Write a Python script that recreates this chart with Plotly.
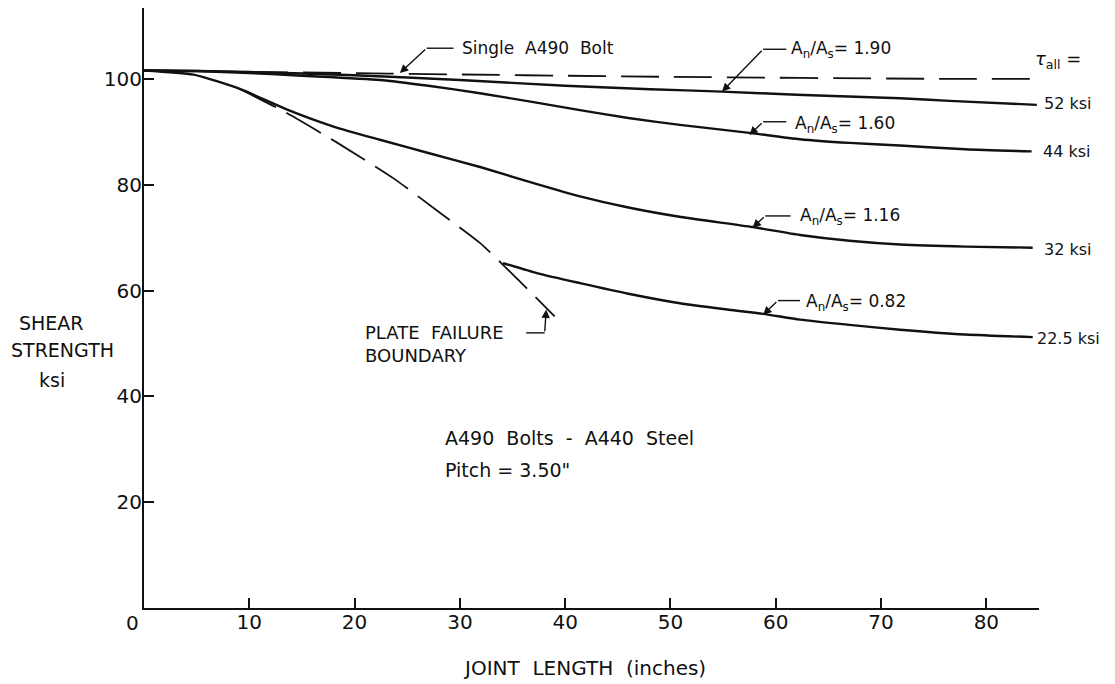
import plotly.graph_objects as go

# ---- data ----
single_x = [0, 23.2, 49.0, 76.5, 85.0]
single_y = [101.6, 101.0, 100.4, 100.0, 100.0]

r190_x = [0, 5, 10, 20, 30, 40, 48.1, 54.9, 62, 71.8, 76.5, 84.8]
r190_y = [101.6, 101.5, 101.3, 100.7, 99.8, 98.7, 98.05, 97.6, 97.0, 96.35, 95.85, 95.1]

r160_x = [0, 5, 10, 15, 22.4, 27, 31.9, 37, 41.4, 46, 50.9, 57.5, 62.3, 67, 71.8, 78, 84.3]
r160_y = [101.6, 101.5, 101.1, 100.6, 99.8, 98.7, 97.3, 95.6, 94.1, 92.6, 91.3, 89.8, 88.6, 87.9, 87.4, 86.7, 86.3]

r116_x = [0, 4.7, 9.1, 13.6, 18, 22.4, 27, 32, 37, 41.4, 46, 51, 57.8, 62.3, 67, 71.8, 78, 84.4]
r116_y = [101.6, 100.8, 98.1, 94.2, 91.0, 88.5, 86.0, 83.3, 80.3, 77.8, 75.7, 73.9, 72.0, 70.5, 69.4, 68.7, 68.3, 68.1]

r082_x = [34.1, 37.5, 41.4, 46, 50.9, 55, 58.8, 62.3, 67, 71.8, 78, 84.4]
r082_y = [65.2, 63.2, 61.4, 59.4, 57.6, 56.5, 55.6, 54.5, 53.5, 52.6, 51.7, 51.2]

plate_x = [9.1, 13.6, 18.3, 23.7, 28.1, 31.9, 35.4, 39.0]
plate_y = [98.1, 93.5, 88.0, 81.2, 74.7, 69.0, 62.3, 55.1]

x_ticks = [10, 20, 30, 40, 50, 60, 70, 80]
y_ticks = [20, 40, 60, 80, 100]

end_labels = ["52 ksi", "44 ksi", "32 ksi", "22.5 ksi"]
end_label_y = [95.4, 86.3, 67.8, 51.0]
end_label_px = [1045, 1044, 1045, 1038]

FONT = "DejaVu Sans"
BLACK = "#111111"

# plot area in page pixels (reference): x 144..1039, y 8..608.3 ; page body has 8px margin
PX0, PX1 = 144.0, 1039.0
def paper_x(px):
    return (px - PX0) / (PX1 - PX0)

fig = go.Figure()

def line(x, y, dash="solid", width=2.4):
    fig.add_trace(go.Scatter(x=x, y=y, mode="lines",
                             line=dict(color=BLACK, width=width, dash=dash, shape="spline", smoothing=0.6),
                             showlegend=False, hoverinfo="skip"))

line(single_x, single_y, dash="38px,15px", width=1.8)
line(r190_x, r190_y)
line(r160_x, r160_y)
line(r116_x, r116_y)
line(r082_x, r082_y)
line(plate_x, plate_y, dash="40px,12px", width=1.8)

ann = []
shapes = []

def leader(tip, bend, hend, text, tx, ty, size=16):
    ann.append(dict(x=tip[0], y=tip[1], ax=bend[0], ay=bend[1], axref="x", ayref="y",
                    xref="x", yref="y", text="", showarrow=True, arrowhead=2,
                    arrowsize=1.2, arrowwidth=1.4, arrowcolor=BLACK))
    shapes.append(dict(type="line", xref="x", yref="y", x0=bend[0], y0=bend[1],
                       x1=hend, y1=bend[1], line=dict(color=BLACK, width=1.4)))
    ann.append(dict(x=tx, y=ty, xref="x", yref="y", text=text, showarrow=False,
                    xanchor="left", yanchor="middle",
                    font=dict(family=FONT, size=size, color=BLACK)))

leader((24.3, 101.1), (26.85, 105.8), 29.4, "Single  A490  Bolt", 30.0, 105.8, 17)
leader((54.9, 97.6), (58.8, 105.6), 61.0, "A<sub>n</sub>/A<sub>s</sub>= 1.90", 61.3, 105.6, 17)
leader((57.5, 89.4), (58.8, 91.9), 61.0, "A<sub>n</sub>/A<sub>s</sub>= 1.60", 61.6, 91.4, 17)
leader((57.8, 71.85), (59.0, 74.1), 61.4, "A<sub>n</sub>/A<sub>s</sub>= 1.16", 62.1, 74.0, 17)
leader((58.8, 55.4), (60.2, 58.1), 62.3, "A<sub>n</sub>/A<sub>s</sub>= 0.82", 62.7, 57.7, 17)

# plate failure boundary leader (vertical then horizontal)
ann.append(dict(x=38.2, y=56.4, ax=38.05, ay=52.0, axref="x", ayref="y", xref="x", yref="y",
                text="", showarrow=True, arrowhead=2, arrowsize=1.2, arrowwidth=1.4, arrowcolor=BLACK))
shapes.append(dict(type="line", xref="x", yref="y", x0=38.05, y0=52.0, x1=36.3, y1=52.0,
                   line=dict(color=BLACK, width=1.4)))
ann.append(dict(x=20.8, y=49.9, xref="x", yref="y", text="PLATE  FAILURE<br>BOUNDARY",
                showarrow=False, xanchor="left", yanchor="middle", align="left",
                font=dict(family=FONT, size=18, color=BLACK)))

# tau_all
ann.append(dict(x=paper_x(1033), y=103.6, xref="paper", yref="y", text="<i>τ</i><sub>all</sub> =",
                showarrow=False, xanchor="left", yanchor="middle",
                font=dict(family=FONT, size=18, color=BLACK)))

for t, yy, px in zip(end_labels, end_label_y, end_label_px):
    ann.append(dict(x=paper_x(px - 3), y=yy, xref="paper", yref="y", text=t, showarrow=False,
                    xanchor="left", yanchor="middle",
                    font=dict(family=FONT, size=16, color=BLACK)))

ann.append(dict(x=28.4, y=32.1, xref="x", yref="y", text="A490  Bolts  -  A440  Steel",
                showarrow=False, xanchor="left", yanchor="middle",
                font=dict(family=FONT, size=19, color=BLACK)))
ann.append(dict(x=28.4, y=26.1, xref="x", yref="y", text="Pitch = 3.50\"",
                showarrow=False, xanchor="left", yanchor="middle",
                font=dict(family=FONT, size=19, color=BLACK)))

# y-axis title lines
for t, px, yy in [("SHEAR", 51.7, 53.8), ("STRENGTH", 62.0, 48.8), ("ksi", 52.0, 43.1)]:
    ann.append(dict(x=paper_x(px), y=yy, xref="paper", yref="y", text=t, showarrow=False,
                    xanchor="center", yanchor="middle",
                    font=dict(family=FONT, size=19, color=BLACK)))

# origin label and x-axis title
ann.append(dict(x=paper_x(132.7), y=-0.0245, xref="paper", yref="paper", text="0", showarrow=False,
                xanchor="center", yanchor="middle", font=dict(family=FONT, size=20, color=BLACK)))
ann.append(dict(x=paper_x(584), y=-0.0995, xref="paper", yref="paper", text="JOINT  LENGTH  (inches)",
                showarrow=False, xanchor="center", yanchor="middle",
                font=dict(family=FONT, size=20, color=BLACK)))

fig.update_layout(
    width=1107, height=676,
    margin=dict(l=136, r=76, t=0, b=76, pad=0),
    paper_bgcolor="white", plot_bgcolor="white",
    font=dict(family=FONT, color=BLACK),
    annotations=ann, shapes=shapes,
    xaxis=dict(range=[0, 85], showgrid=False, zeroline=False, showline=True,
               linecolor=BLACK, linewidth=2, ticks="inside", ticklen=10, tickwidth=1.5,
               tickcolor=BLACK, tickvals=x_ticks, ticktext=[str(v) for v in x_ticks],
               ticklabelstandoff=-5,
               tickfont=dict(family=FONT, size=20, color=BLACK)),
    yaxis=dict(range=[0, 113.4], showgrid=False, zeroline=False, showline=True,
               linecolor=BLACK, linewidth=2, ticks="inside", ticklen=10, tickwidth=1.5,
               tickcolor=BLACK, tickvals=y_ticks, ticktext=[str(v) for v in y_ticks],
               ticklabelstandoff=-4,
               tickfont=dict(family=FONT, size=20, color=BLACK)),
)

fig.write_html("out.html")
